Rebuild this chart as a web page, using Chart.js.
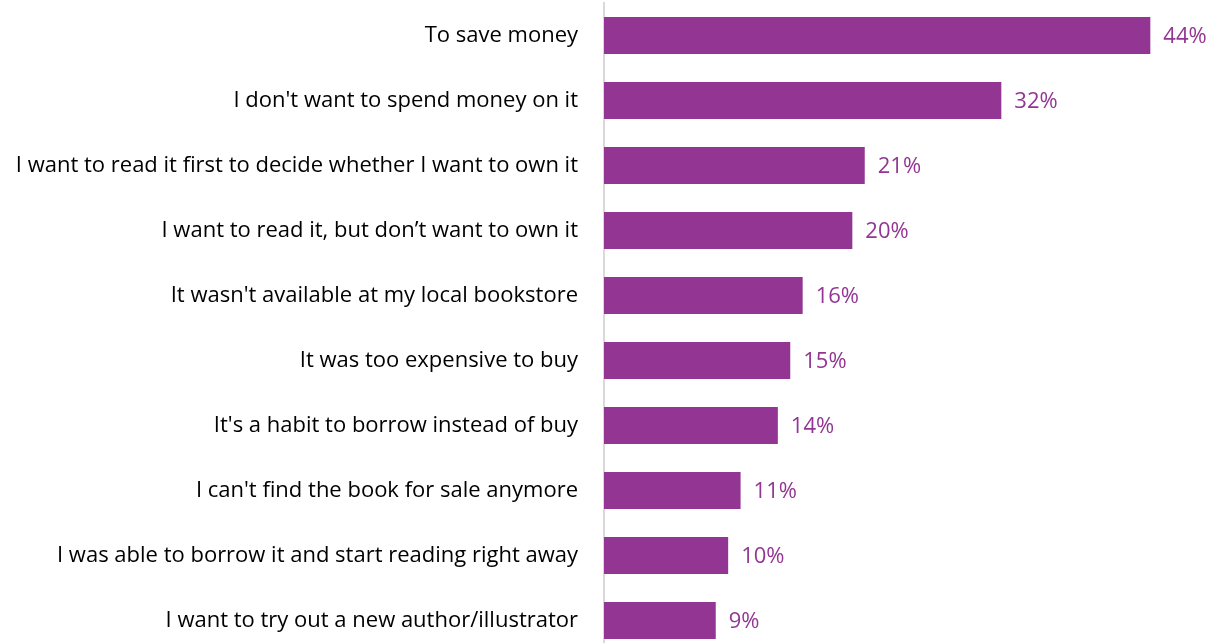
<!DOCTYPE html>
<html>
<head>
<meta charset="utf-8">
<script src="https://cdn.jsdelivr.net/npm/chart.js@4/dist/chart.umd.min.js"></script>
<style>
  html, body { margin: 0; padding: 0; background: #ffffff; overflow: hidden; }
  #wrap { position: relative; width: 1210px; height: 656px; }
</style>
</head>
<body>
<div id="wrap"><canvas id="chart"></canvas></div>
<script>
// Reasons for borrowing a book instead of buying it
const categories = [
  "To save money",
  "I don't want to spend money on it",
  "I want to read it first to decide whether I want to own it",
  "I want to read it, but don\u2019t want to own it",
  "It wasn't available at my local bookstore",
  "It was too expensive to buy",
  "It's a habit to borrow instead of buy",
  "I can't find the book for sale anymore",
  "I was able to borrow it and start reading right away",
  "I want to try out a new author/illustrator"
];
const shares = [44, 32, 21, 20, 16, 15, 14, 11, 10, 9];

const BAR_COLOR = "#933693";
const LABEL_FONT = "'Open Sans', sans-serif";

// Draws the percentage just past the end of each bar
const valueLabels = {
  id: "valueLabels",
  afterDatasetsDraw(chart) {
    const ctx = chart.ctx;
    const meta = chart.getDatasetMeta(0);
    ctx.save();
    ctx.fillStyle = BAR_COLOR;
    ctx.font = "22px " + LABEL_FONT;
    ctx.textAlign = "left";
    ctx.textBaseline = "middle";
    meta.data.forEach((bar, i) => {
      ctx.fillText(shares[i] + "%", bar.x + 13, bar.y + 1);
    });
    ctx.restore();
  }
};

new Chart(document.getElementById("chart"), {
  type: "bar",
  data: {
    labels: categories,
    datasets: [{
      data: shares,
      backgroundColor: BAR_COLOR,
      borderWidth: 0,
      categoryPercentage: 1,
      barPercentage: 0.57
    }]
  },
  options: {
    indexAxis: "y",
    responsive: true,
    maintainAspectRatio: false,
    animation: false,
    layout: { padding: { top: 3, bottom: 3, left: 0, right: 10 } },
    plugins: {
      legend: { display: false },
      tooltip: { enabled: false }
    },
    scales: {
      x: {
        display: false,
        min: 0,
        max: 48
      },
      y: {
        grid: { display: false, drawTicks: false },
        border: { display: true, color: "#d9d9d9", width: 2 },
        ticks: {
          color: "#000000",
          padding: 26,
          font: { family: LABEL_FONT, size: 22 }
        },
        afterFit(scale) {
          scale.width = 604;
          scale.paddingTop = 0;
          scale.paddingBottom = 0;
        }
      }
    }
  },
  plugins: [valueLabels]
});
</script>
</body>
</html>
